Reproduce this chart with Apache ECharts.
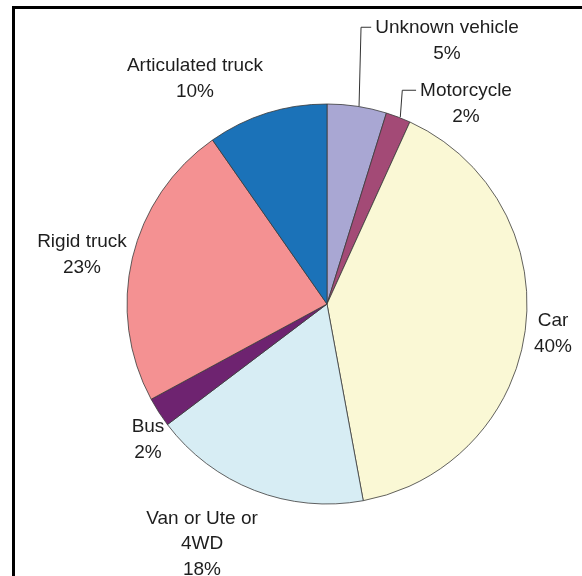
<!DOCTYPE html>
<html>
<head>
<meta charset="utf-8">
<script src="https://cdn.jsdelivr.net/npm/echarts@6/dist/echarts.min.js"></script>
<style>html,body{margin:0;padding:0;background:#fff;}#c{width:582px;height:576px;}</style>
</head>
<body>
<div id="c"></div>
<script>
// Data (clockwise from 12 o'clock)
var categories = ['Unknown vehicle', 'Motorcycle', 'Car', 'Van or Ute or 4WD', 'Bus', 'Rigid truck', 'Articulated truck'];
var values = [4.8, 2.0, 40.3, 17.6, 2.4, 23.2, 9.7];
var percentLabels = ['5%', '2%', '40%', '18%', '2%', '23%', '10%'];
var displayNames = ['Unknown vehicle', 'Motorcycle', 'Car', 'Van or Ute or\n4WD', 'Bus', 'Rigid truck', 'Articulated truck'];

// Styles / layout
var colors = ['#A9A7D3', '#A34A76', '#FAF8D5', '#D7EDF4', '#6E2370', '#F49192', '#1B72B8'];
var labelCenters = [[447, 41], [466, 104], [553, 334], [202, 544], [148, 440], [82, 255], [195, 79]];
var withLeader = [true, true, false, false, false, false, false];
var LH = 25.5;

var chart = echarts.init(document.getElementById('c'), null, {renderer: 'canvas'});
var option = {
  animation: false,
  backgroundColor: '#fff',
  color: colors,
  graphic: [{
    type: 'rect', left: 11, top: 5, z: 10,
    shape: {width: 620, height: 620},
    style: {fill: 'none', stroke: '#000', lineWidth: 3}
  }],
  series: [{
    type: 'pie',
    center: [327, 304],
    radius: [0, 200],
    startAngle: 90,
    clockwise: true,
    avoidLabelOverlap: false,
    itemStyle: {borderColor: '#3a3a3a', borderWidth: 0.8},
    label: {
      show: true,
      position: 'outside',
      fontFamily: 'Liberation Sans, Arial, sans-serif',
      fontSize: 19,
      lineHeight: LH,
      color: '#1e1e1e',
      align: 'center',
      formatter: function (p) {
        return displayNames[p.dataIndex] + '\n' + percentLabels[p.dataIndex];
      }
    },
    labelLine: {show: true, length: 5, length2: 5, lineStyle: {color: '#333', width: 1}},
    labelLayout: function (p) {
      var i = p.dataIndex;
      var c = labelCenters[i];
      var res = {x: c[0], y: c[1], align: 'center', verticalAlign: 'middle'};
      if (withLeader[i] && p.labelLinePoints) {
        var p0 = p.labelLinePoints[0];
        var w = p.labelRect.width;
        var h = p.labelRect.height;
        var firstLine = c[1] - h / 2 + LH / 2 - 1;
        var endX = c[0] - w / 2 - 4;
        res.labelLinePoints = [[p0[0] + 2, p0[1]], [p0[0] + 4, firstLine], [endX, firstLine]];
      }
      return res;
    },
    emphasis: {disabled: true},
    data: categories.map(function (n, i) {
      return {name: n, value: values[i], labelLine: {show: withLeader[i]}};
    })
  }]
};
chart.setOption(option);
</script>
</body>
</html>
